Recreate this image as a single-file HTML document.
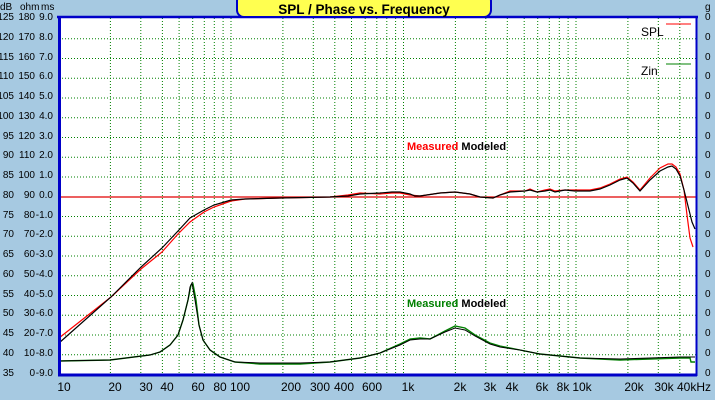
<!DOCTYPE html>
<html><head><meta charset="utf-8"><style>
body{margin:0;width:715px;height:400px;overflow:hidden;background:#a6c9e1;font-family:"Liberation Sans",sans-serif}
svg{display:block}
</style></head><body>
<svg width="715" height="400" xmlns="http://www.w3.org/2000/svg" font-family="Liberation Sans, sans-serif" font-size="11">
<rect x="0" y="0" width="715" height="400" fill="#a6c9e1"/>
<rect x="59" y="18" width="637" height="356" fill="#fff"/>
<g stroke="#008000" stroke-width="1" stroke-dasharray="1,2" fill="none">
<path d="M59 38.7H696M59 58.5H696M59 78.2H696M59 98H696M59 117.7H696M59 137.5H696M59 157.2H696M59 177H696M59 216.5H696M59 236.2H696M59 256H696M59 275.7H696M59 295.5H696M59 315.2H696M59 335H696M59 354.7H696"/>
<path d="M110.4 18V374M140.8 18V374M162.4 18V374M179.1 18V374M192.7 18V374M204.3 18V374M214.3 18V374M223.1 18V374M231 18V374M282.9 18V374M313.3 18V374M334.8 18V374M351.5 18V374M365.2 18V374M376.8 18V374M386.8 18V374M395.6 18V374M403.5 18V374M455.4 18V374M485.8 18V374M507.3 18V374M524.2 18V374M537.7 18V374M549.3 18V374M559.3 18V374M568.1 18V374M576 18V374M627.9 18V374M658.3 18V374M679.8 18V374"/>
</g>
<line x1="59" y1="197" x2="696" y2="197" stroke="#e00000" stroke-width="1.2"/>
<polyline fill="none" stroke="#ff0000" stroke-width="1.2" points="59,338 111,297 141,269 162,252 178,234 190,222 204,212 214,207 231,201 245,199 280,198 330,197 348,195 360,193 380,194 392,193 400,193 410,195 420,196 440,193 455,192 470,194 480,197 493,198 500,195 510,191 525,191 530,189 537,192 545,190 550,189 555,191 565,190 575,190 590,190 600,188 610,184 620,179 627,177 633,182 640,190 650,178 660,168 668,164 672,164 676,167 680,174 684,190 687,215 690,238 693,247"/>
<polyline fill="none" stroke="#000" stroke-width="1.2" points="59,343 111,297 141,267 162,248 178,231 190,218 204,210 214,205 231,200 245,199 280,198 330,197 348,196 360,194 380,193 392,192 400,192 410,194 415,196 420,196 440,193 455,192 470,194 480,197 493,198 500,195 510,192 525,191 530,190 537,192 545,191 550,190 555,192 565,190 575,191 590,191 600,189 610,185 620,180 627,178 633,183 640,191 650,180 660,171 668,167 672,166 676,169 680,176 684,190 688,206 692,222 695,229"/>
<polyline fill="none" stroke="#008000" stroke-width="1.4" points="59,361 110,360 150,355 160,352 170,345 178,335 183,320 188,300 191,285 193,284 196,300 199,325 203,340 210,350 220,357 235,362 260,364 300,364 330,362 360,358 380,353 400,344 410,339 420,338 430,339 445,331 455,326 465,328 475,335 490,343 500,346 520,350 540,354 560,356 580,358 620,360 650,359 680,358 690,358 691,362 695,362"/>
<polyline fill="none" stroke="#000" stroke-width="1" points="59,361 110,360 150,355 160,352 170,345 178,335 183,320 188,300 190,287 192,283 195,300 199,325 203,340 210,350 220,357 235,362 260,363 300,363 330,362 360,358 380,353 400,345 410,340 420,339 430,339 445,332 455,328 465,330 475,336 490,344 500,347 520,350 540,354 560,356 580,358 620,359 650,358 680,357 695,357"/>
<path d="M59.5 17V375H697" fill="none" stroke="#0000c8" stroke-width="3"/>
<line x1="57" y1="17" x2="698" y2="17" stroke="#0000c8" stroke-width="2.5"/>
<line x1="696.5" y1="17" x2="696.5" y2="376" stroke="#0000c8" stroke-width="2"/>
<rect x="237" y="-6" width="254" height="23" rx="7" fill="#ffff50" stroke="#0000c8" stroke-width="2"/>
<text x="364" y="14" text-anchor="middle" font-weight="bold" font-size="13.5">SPL / Phase vs. Frequency</text>
<text x="641" y="36" font-size="12">SPL</text>
<line x1="666" y1="24" x2="691" y2="24" stroke="#ff0000"/>
<text x="641" y="75" font-size="12">Zin</text>
<line x1="666" y1="64" x2="691" y2="64" stroke="#008000"/>
<text x="407" y="150" font-weight="bold" fill="#ff0000">Measured <tspan fill="#000">Modeled</tspan></text>
<text x="407" y="307" font-weight="bold" fill="#008000">Measured <tspan fill="#000">Modeled</tspan></text>
<g font-size="10">
<text x="0" y="10">dB</text><text x="20" y="10">ohm</text><text x="41" y="10">ms</text>
<g text-anchor="end">
<text x="14" y="20">125</text><text x="14" y="40">120</text><text x="14" y="60">115</text><text x="14" y="79">110</text><text x="14" y="99">105</text><text x="14" y="119">100</text><text x="14" y="139">95</text><text x="14" y="158">90</text><text x="14" y="178">85</text><text x="14" y="198">80</text><text x="14" y="218">75</text><text x="14" y="237">70</text><text x="14" y="257">65</text><text x="14" y="277">60</text><text x="14" y="297">55</text><text x="14" y="316">50</text><text x="14" y="336">45</text><text x="14" y="356">40</text><text x="14" y="376">35</text>
<text x="35" y="20">180</text><text x="35" y="40">170</text><text x="35" y="60">160</text><text x="35" y="79">150</text><text x="35" y="99">140</text><text x="35" y="119">130</text><text x="35" y="139">120</text><text x="35" y="158">110</text><text x="35" y="178">100</text><text x="35" y="198">90</text><text x="35" y="218">80</text><text x="35" y="237">70</text><text x="35" y="257">60</text><text x="35" y="277">50</text><text x="35" y="297">40</text><text x="35" y="316">30</text><text x="35" y="336">20</text><text x="35" y="356">10</text><text x="35" y="376">0</text>
<text x="53" y="20">9.0</text><text x="53" y="40">8.0</text><text x="53" y="60">7.0</text><text x="53" y="79">6.0</text><text x="53" y="99">5.0</text><text x="53" y="119">4.0</text><text x="53" y="139">3.0</text><text x="53" y="158">2.0</text><text x="53" y="178">1.0</text><text x="53" y="198">0.0</text><text x="53" y="218">-1.0</text><text x="53" y="237">-2.0</text><text x="53" y="257">-3.0</text><text x="53" y="277">-4.0</text><text x="53" y="297">-5.0</text><text x="53" y="316">-6.0</text><text x="53" y="336">-7.0</text><text x="53" y="356">-8.0</text><text x="53" y="376">-9.0</text>
</g>
<g>
<text x="705" y="10">g</text>
<text x="705" y="20">0</text><text x="705" y="40">0</text><text x="705" y="60">0</text><text x="705" y="79">0</text><text x="705" y="99">0</text><text x="705" y="119">0</text><text x="705" y="139">0</text><text x="705" y="158">0</text><text x="705" y="178">0</text><text x="705" y="198">0</text><text x="705" y="218">0</text><text x="705" y="237">0</text><text x="705" y="257">0</text><text x="705" y="277">0</text><text x="705" y="297">0</text><text x="705" y="316">0</text><text x="705" y="336">0</text><text x="705" y="356">0</text><text x="705" y="376">0</text>
</g>
</g>
<g font-size="12" text-anchor="middle">
<text x="64" y="391">10</text><text x="115" y="391">20</text><text x="146" y="391">30</text><text x="167" y="391">40</text><text x="198" y="391">60</text><text x="220" y="391">80</text><text x="240" y="391">100</text><text x="291" y="391">200</text><text x="320" y="391">300</text><text x="344" y="391">400</text><text x="372" y="391">600</text><text x="408" y="391">1k</text><text x="460" y="391">2k</text><text x="490" y="391">3k</text><text x="512" y="391">4k</text><text x="542" y="391">6k</text><text x="563" y="391">8k</text><text x="582" y="391">10k</text><text x="634" y="391">20k</text><text x="664" y="391">30k</text><text x="694" y="391">40kHz</text>
</g>
</svg>
</body></html>
